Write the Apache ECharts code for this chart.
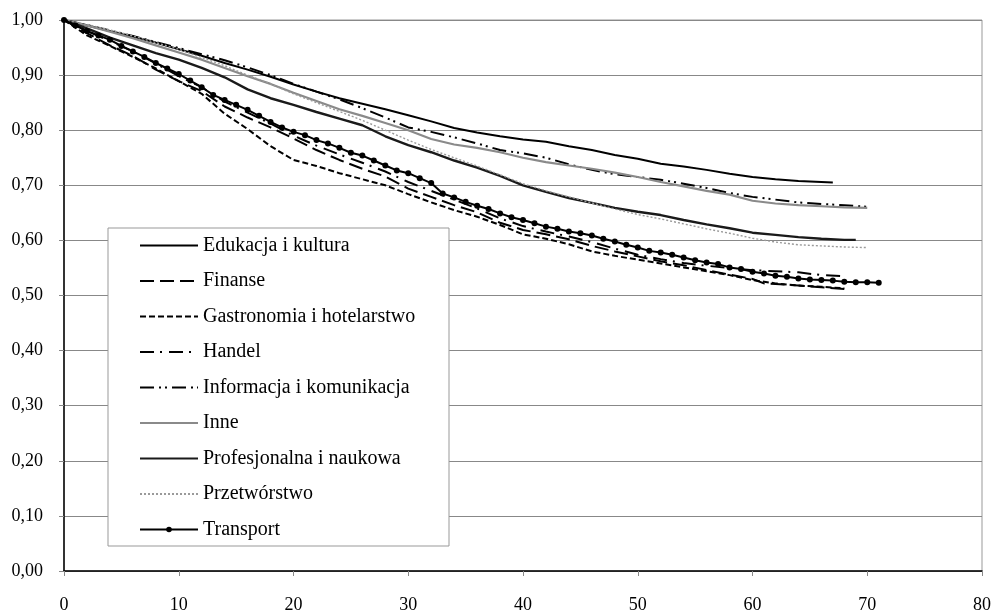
<!DOCTYPE html>
<html>
<head>
<meta charset="utf-8">
<script src="https://cdn.jsdelivr.net/npm/echarts@6/dist/echarts.min.js"></script>
<style>
html,body{margin:0;padding:0;background:#fff;}
#chart{width:993px;height:611px;}
</style>
</head>
<body>
<div id="chart"></div>
<script>
// ---- data ----
const seriesNames = ["Edukacja i kultura","Finanse","Gastronomia i hotelarstwo","Handel","Informacja i komunikacja","Inne","Profesjonalna i naukowa","Przetwórstwo","Transport"];
const xTicks = [0,10,20,30,40,50,60,70,80];
const yTicks = [0,0.1,0.2,0.3,0.4,0.5,0.6,0.7,0.8,0.9,1.0];

const xEdu = [0,2,4,6,8,10,12,14,16,18,20,22,24,26,28,30,32,34,36,38,40,42,44,46,48,50,52,54,56,58,60,62,64,66,67];
const yEdu = [1.000,0.990,0.980,0.970,0.959,0.947,0.935,0.922,0.910,0.897,0.883,0.870,0.858,0.848,0.838,0.827,0.816,0.804,0.796,0.789,0.783,0.779,0.771,0.764,0.755,0.748,0.739,0.734,0.728,0.721,0.715,0.711,0.708,0.706,0.705];

const xFin = [0,2,4,6,8,10,12,14,16,18,20,22,24,26,28,30,32,34,36,38,40,42,44,46,48,50,52,54,56,58,60,61,62,64,66,68];
const yFin = [1.000,0.976,0.954,0.935,0.910,0.889,0.871,0.843,0.823,0.805,0.785,0.764,0.746,0.730,0.716,0.694,0.679,0.664,0.651,0.632,0.619,0.611,0.602,0.590,0.580,0.571,0.562,0.555,0.546,0.538,0.530,0.522,0.521,0.518,0.515,0.512];

const xGas = [0,2,4,6,8,10,12,14,16,18,20,22,24,26,28,30,32,34,36,38,40,42,44,46,48,50,52,54,56,58,60,62,64,66,68];
const yGas = [1.000,0.972,0.953,0.933,0.912,0.889,0.866,0.830,0.802,0.771,0.746,0.735,0.722,0.711,0.700,0.684,0.669,0.655,0.643,0.628,0.611,0.603,0.593,0.580,0.572,0.565,0.558,0.551,0.544,0.537,0.528,0.522,0.518,0.516,0.513];

const xHan = [0,2,4,6,8,10,12,14,16,18,20,22,24,26,28,30,32,34,36,38,40,42,44,46,48,50,52,54,56,58,60,62,64,66,68];
const yHan = [1.000,0.980,0.962,0.943,0.921,0.898,0.878,0.852,0.832,0.812,0.790,0.772,0.756,0.741,0.725,0.706,0.690,0.674,0.658,0.640,0.626,0.616,0.607,0.597,0.585,0.574,0.566,0.559,0.554,0.550,0.546,0.544,0.542,0.537,0.535];

const xInf = [0,2,4,6,8,10,12,14,16,18,20,22,24,26,28,30,32,34,36,38,40,42,44,46,48,50,52,54,56,58,60,62,64,66,68,70];
const yInf = [1.000,0.991,0.981,0.971,0.960,0.949,0.938,0.927,0.914,0.900,0.884,0.870,0.856,0.840,0.823,0.805,0.797,0.787,0.776,0.764,0.758,0.750,0.738,0.728,0.720,0.715,0.710,0.703,0.695,0.686,0.679,0.674,0.669,0.666,0.664,0.661];

const xInn = [0,2,4,6,8,10,12,14,16,18,20,22,24,26,28,30,32,34,36,38,40,42,44,46,48,50,52,54,56,58,60,62,64,66,68,70];
const yInn = [1.000,0.990,0.979,0.967,0.954,0.941,0.928,0.913,0.898,0.884,0.868,0.853,0.838,0.826,0.813,0.800,0.784,0.774,0.768,0.760,0.750,0.742,0.736,0.730,0.723,0.715,0.706,0.698,0.690,0.683,0.672,0.667,0.664,0.662,0.660,0.659];

const xPro = [0,2,4,6,8,10,12,14,16,18,20,22,24,26,28,30,32,34,36,38,40,42,44,46,48,50,52,54,56,58,60,62,64,66,68,69];
const yPro = [1.000,0.985,0.968,0.954,0.940,0.928,0.913,0.896,0.874,0.858,0.846,0.833,0.821,0.809,0.789,0.773,0.760,0.745,0.732,0.717,0.700,0.688,0.677,0.668,0.659,0.652,0.646,0.637,0.629,0.622,0.614,0.610,0.606,0.603,0.601,0.601];

const xPrz = [0,2,4,6,8,10,12,14,16,18,20,22,24,26,28,30,32,34,36,38,40,42,44,46,48,50,52,54,56,58,60,62,64,66,68,70];
const yPrz = [1.000,0.992,0.982,0.971,0.959,0.947,0.932,0.917,0.900,0.884,0.866,0.850,0.834,0.818,0.800,0.782,0.765,0.750,0.735,0.719,0.703,0.690,0.679,0.668,0.657,0.647,0.639,0.630,0.621,0.613,0.604,0.597,0.592,0.590,0.588,0.587];

const xTra = [0,1,2,3,4,5,6,7,8,9,10,11,12,13,14,15,16,17,18,19,20,21,22,23,24,25,26,27,28,29,30,31,32,33,34,35,36,37,38,39,40,41,42,43,44,45,46,47,48,49,50,51,52,53,54,55,56,57,58,59,60,61,62,63,64,65,66,67,68,69,70,71];
const yTra = [1.000,0.990,0.980,0.972,0.964,0.953,0.943,0.933,0.922,0.912,0.902,0.890,0.878,0.864,0.855,0.846,0.837,0.826,0.815,0.805,0.797,0.791,0.782,0.776,0.768,0.759,0.754,0.745,0.736,0.727,0.722,0.713,0.704,0.685,0.678,0.670,0.663,0.657,0.649,0.642,0.637,0.631,0.625,0.621,0.616,0.613,0.609,0.603,0.598,0.592,0.587,0.581,0.578,0.574,0.569,0.564,0.560,0.557,0.551,0.548,0.543,0.540,0.536,0.534,0.531,0.529,0.528,0.527,0.525,0.524,0.524,0.523];

// ---- chart ----
const FONT = "'Liberation Serif','Times New Roman',serif";
function zip(xs, ys){ return xs.map((x,i)=>[x, ys[i]]); }

const styles = [
  {color:'#000', width:2, type:'solid'},
  {color:'#000', width:2, type:[14,6]},
  {color:'#000', width:2, type:[6,3]},
  {color:'#000', width:2, type:[14,6,2,7]},
  {color:'#000', width:2, type:[14,5,2,4,2,5]},
  {color:'#8a8a8a', width:2.2, type:'solid'},
  {color:'#1a1a1a', width:2.4, type:'solid'},
  {color:'#9a9a9a', width:1.4, type:[2,2]},
  {color:'#000', width:2, type:'solid'}
];
const dataSets = [zip(xEdu,yEdu), zip(xFin,yFin), zip(xGas,yGas), zip(xHan,yHan), zip(xInf,yInf), zip(xInn,yInn), zip(xPro,yPro), zip(xPrz,yPrz), zip(xTra,yTra)];

const series = seriesNames.map((name, i) => {
  const st = styles[i];
  const isT = name === 'Transport';
  return {
    name: name,
    type: 'line',
    data: dataSets[i],
    symbol: isT ? 'circle' : 'none',
    symbolSize: isT ? 6 : 0,
    showSymbol: isT,
    itemStyle: {color: st.color},
    lineStyle: {color: st.color, width: st.width, type: st.type},
    z: isT ? 5 : 2,
    silent: true
  };
});

const legendData = seriesNames.map(n => n === 'Transport' ? {name: n} : {name: n, itemStyle: {opacity: 0}});

const chart = echarts.init(document.getElementById('chart'));
chart.setOption({
  animation: false,
  backgroundColor: '#fff',
  grid: {left: 64, right: 11, top: 20, bottom: 40, show: true, borderColor: '#999', borderWidth: 1,
         containLabel: false, outerBoundsMode: 'none'},
  xAxis: {
    type: 'value', min: xTicks[0], max: xTicks[xTicks.length-1], interval: 10,
    axisLine: {show: true, onZero: false, lineStyle: {color: '#000', width: 1.5}},
    axisTick: {show: true, length: 5, lineStyle: {color: '#888'}},
    axisLabel: {margin: 25, color: '#000', fontFamily: FONT, fontSize: 18},
    splitLine: {show: false}
  },
  yAxis: {
    type: 'value', min: yTicks[0], max: yTicks[yTicks.length-1], interval: 0.1,
    axisLine: {show: true, lineStyle: {color: '#000', width: 1.5}},
    axisTick: {show: true, length: 5, lineStyle: {color: '#888'}},
    axisLabel: {margin: 21, color: '#000', fontFamily: FONT, fontSize: 18,
      formatter: v => v.toFixed(2).replace('.', ',')},
    splitLine: {show: true, lineStyle: {color: '#888', width: 1}}
  },
  graphic: [{
    type: 'rect', z: 3,
    shape: {x: 108, y: 228, width: 341, height: 318},
    style: {fill: '#fff', stroke: '#999', lineWidth: 1}
  }],
  legend: {
    show: true, orient: 'vertical', left: 139, top: 235.5, padding: 0,
    itemWidth: 58, itemHeight: 7, itemGap: 15.5, z: 10,
    data: legendData,
    textStyle: {color: '#000', fontFamily: FONT, fontSize: 20, lineHeight: 20},
    selectedMode: false
  },
  series: series
});
</script>
</body>
</html>
